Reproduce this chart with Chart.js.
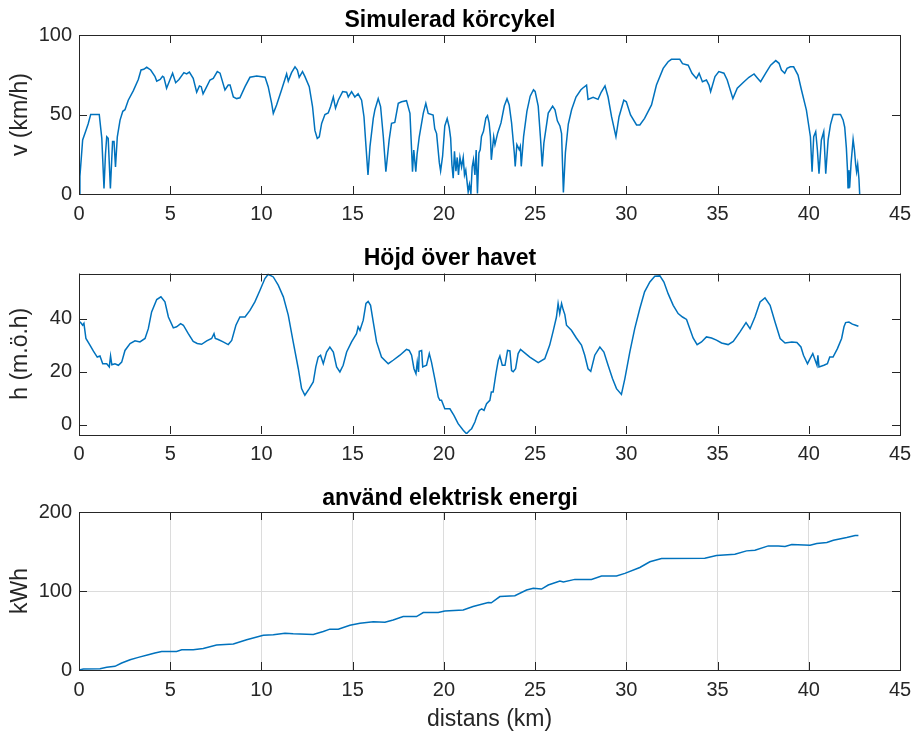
<!DOCTYPE html>
<html>
<head>
<meta charset="utf-8">
<script src="https://cdn.jsdelivr.net/npm/chart.js@4"></script>
<style>
  body { margin: 0; background: #fff; }
  canvas { position: absolute; left: 0; }
</style>
</head>
<body>
<canvas id="speedChart" width="914" height="232" style="top:0px"></canvas>
<canvas id="heightChart" width="914" height="234" style="top:238px"></canvas>
<canvas id="energyChart" width="914" height="257" style="top:476px"></canvas>
<script>
// distance ticks shared by all three subplots
const distTicks = [0, 5, 10, 15, 20, 25, 30, 35, 40, 45];

// Simulerad körcykel: speed vs distance
const speedKm = [0, 0.05, 0.2, 0.38, 0.5, 0.64, 1.11, 1.25, 1.37, 1.45, 1.52, 1.6, 1.72, 1.84, 1.92, 2.0, 2.1, 2.25, 2.4, 2.52,
  2.7, 2.98, 3.25, 3.4, 3.55, 3.71, 3.93, 4.16, 4.26, 4.45, 4.58, 4.65, 4.8, 4.98, 5.13, 5.3, 5.48, 5.75, 5.9, 6.05,
  6.26, 6.45, 6.6, 6.7, 6.8, 7.0, 7.18, 7.36, 7.58, 7.73, 8.0, 8.18, 8.28, 8.46, 8.64, 8.82, 9.1, 9.37, 9.74, 10.2,
  10.37, 10.56, 10.65, 10.83, 11.1, 11.38, 11.47, 11.65, 11.84, 11.97, 12.07, 12.25, 12.38, 12.62, 12.8, 12.93, 13.06, 13.17, 13.3, 13.48,
  13.66, 13.79, 13.94, 14.06, 14.21, 14.45, 14.67, 14.76, 14.94, 15.12, 15.3, 15.49, 15.62, 15.73, 15.84, 15.95, 16.13, 16.22, 16.4, 16.53,
  16.68, 16.82, 17.0, 17.13, 17.31, 17.5, 17.68, 17.95, 18.14, 18.23, 18.28, 18.35, 18.46, 18.53, 18.65, 18.87, 19.01, 19.14, 19.41, 19.5,
  19.6, 19.75, 19.82, 19.93, 20.05, 20.18, 20.29, 20.37, 20.44, 20.51, 20.58, 20.66, 20.73, 20.8, 20.88, 20.97, 21.06, 21.13, 21.2, 21.33,
  21.4, 21.48, 21.55, 21.62, 21.7, 21.77, 21.84, 21.92, 21.99, 22.06, 22.17, 22.3, 22.39, 22.48, 22.55, 22.6, 22.73, 22.8, 22.95, 23.13,
  23.31, 23.46, 23.58, 23.71, 23.86, 23.91, 24.0, 24.13, 24.19, 24.24, 24.37, 24.55, 24.73, 24.91, 25.0, 25.17, 25.3, 25.39, 25.48, 25.72,
  25.96, 26.09, 26.22, 26.36, 26.45, 26.55, 26.66, 26.82, 27.0, 27.24, 27.5, 27.6, 27.82, 27.9, 28.18, 28.45, 28.62, 28.83, 29.0, 29.19,
  29.43, 29.6, 29.86, 30.0, 30.23, 30.56, 30.74, 31.0, 31.38, 31.65, 32.02, 32.29, 32.47, 32.93, 33.08, 33.39, 33.6, 33.84, 33.99, 34.17,
  34.39, 34.53, 34.62, 34.86, 35.07, 35.35, 35.53, 35.84, 36.08, 36.45, 36.72, 37.0, 37.18, 37.36, 37.64, 37.91, 38.19, 38.37, 38.5, 38.68,
  38.81, 38.99, 39.17, 39.41, 39.6, 39.87, 40.09, 40.18, 40.27, 40.38, 40.47, 40.56, 40.69, 40.82, 40.93, 41.06, 41.19, 41.34, 41.74, 41.88,
  41.97, 42.06, 42.12, 42.15, 42.2, 42.24, 42.32, 42.43, 42.5, 42.57, 42.62, 42.68, 42.75, 42.79];
const speedKmh = [0, 11, 34, 40, 44, 50, 50, 35, 3.5, 25, 36, 35, 3.5, 33, 33, 17, 36, 46.5, 52, 53,
  59, 65, 72, 78, 78.4, 79.7, 78, 74, 71, 72, 74, 73.5, 66.5, 71.7, 76, 70, 72, 76.3, 75.5, 76.7,
  72.7, 64, 68, 67.5, 63, 67.5, 71.7, 72.7, 77, 76, 65.4, 68.5, 68.5, 61, 60, 60.5, 67.5, 73.4, 74.2, 73.4,
  67.5, 57, 50.7, 56, 65.4, 75.5, 71, 76.3, 80, 78, 73.4, 77, 74, 67.5, 55, 40, 35, 36, 44.4, 50,
  51, 55, 61, 54, 59, 64.4, 64, 61, 64.4, 61, 63, 59, 48.6, 30, 12, 30, 47.6, 53, 60, 55,
  36, 14, 34, 44.4, 45, 57, 58, 58.7, 50.7, 27.7, 14, 27.7, 14, 25, 36, 50.7, 57, 50.7, 49.7, 41,
  38, 19.7, 14.5, 23.9, 42.8, 47.4, 42, 35.2, 18.4, 10, 26.8, 14.3, 23, 12, 23, 17, 23, 12, 15, 1.3,
  6, 0.2, 17, 21.5, 12, 27.6, 0.3, 25.8, 27.8, 36.2, 39.4, 47.8, 49.3, 44.7, 36.2, 21.5, 36, 31, 38.4, 44.7,
  55.3, 59.9, 56, 44.7, 25.8, 17.4, 31, 27.9, 30, 17.4, 36.3, 52, 61.5, 65.6, 64.5, 55.3, 34.3, 17.4, 32, 50.9,
  55.3, 53, 46, 42.8, 38, 1, 26, 44, 53, 61, 65.4, 66.5, 68.5, 59.5, 60.8, 59.5, 64, 68, 61, 48.6,
  36, 48.6, 59, 58, 49.7, 43.4, 43.4, 47.6, 56, 68.5, 79, 83.2, 84.7, 84.7, 82, 81, 75.9, 72.7, 75.9, 70.6,
  71.7, 68.5, 64.4, 73.8, 77, 76, 71.7, 60, 66.5, 70.6, 73.4, 75.5, 73, 70.6, 76, 81, 83.9, 82.2, 78, 75.9,
  79, 80, 80, 74.8, 65.4, 52.8, 36, 14, 36, 39.2, 28, 12.8, 34, 39.2, 12.8, 34, 43.6, 50, 50, 46.6,
  42, 29, 15.4, 3.9, 15, 3.9, 19.6, 34.4, 28, 18.6, 14, 18.6, 9.4, 0];
const speedTicks = [0, 50, 100];

// Höjd över havet: elevation vs distance
const heightKm = [0, 0.09, 0.2, 0.27, 0.38, 0.6, 0.79, 1.0, 1.15, 1.3, 1.52, 1.66, 1.73, 1.8, 1.97, 2.16, 2.34, 2.52, 2.8, 3.07,
  3.34, 3.62, 3.8, 3.98, 4.26, 4.49, 4.71, 4.9, 5.17, 5.35, 5.57, 5.72, 5.99, 6.26, 6.48, 6.72, 7.0, 7.27, 7.4, 7.47,
  7.63, 7.9, 8.18, 8.37, 8.6, 8.82, 9.1, 9.37, 9.64, 9.92, 10.19, 10.37, 10.65, 10.92, 11.2, 11.47, 11.74, 12.02, 12.2, 12.38,
  12.62, 12.84, 12.98, 13.11, 13.24, 13.39, 13.57, 13.75, 13.94, 14.12, 14.3, 14.48, 14.67, 14.94, 15.21, 15.3, 15.4, 15.58, 15.73, 15.85,
  15.98, 16.13, 16.31, 16.58, 16.95, 17.22, 17.59, 17.95, 18.1, 18.23, 18.36, 18.47, 18.54, 18.61, 18.65, 18.78, 18.84, 19.05, 19.2, 19.32,
  19.5, 19.69, 19.78, 19.87, 20.05, 20.33, 20.55, 20.78, 21.06, 21.24, 21.42, 21.52, 21.7, 21.79, 21.94, 22.07, 22.2, 22.34, 22.52, 22.6,
  22.7, 22.85, 22.98, 23.07, 23.2, 23.35, 23.49, 23.62, 23.71, 23.8, 23.93, 24.07, 24.2, 24.71, 25.17, 25.53, 25.8, 25.98, 26.17, 26.26,
  26.35, 26.45, 26.54, 26.63, 26.72, 26.99, 27.26, 27.54, 27.72, 27.9, 28.05, 28.27, 28.55, 28.77, 29.0, 29.24, 29.46, 29.73, 29.92, 30.19,
  30.46, 30.74, 31.0, 31.29, 31.56, 31.84, 32.06, 32.29, 32.57, 32.84, 33.08, 33.3, 33.48, 33.66, 33.88, 34.12, 34.39, 34.67, 34.94, 35.22,
  35.58, 35.86, 36.23, 36.56, 36.78, 37.05, 37.33, 37.6, 37.88, 38.15, 38.43, 38.7, 39.07, 39.35, 39.57, 39.71, 39.93, 40.07, 40.22, 40.35,
  40.45, 40.5, 40.56, 40.83, 41.02, 41.15, 41.33, 41.57, 41.8, 41.93, 42.02, 42.2, 42.39, 42.57, 42.72];
const heightM = [39, 38.5, 37.5, 38.2, 32.5, 30, 27.7, 25.5, 25.9, 23, 23, 21.8, 25.9, 22.6, 23, 22.4, 23.6, 28, 30.6, 31.6,
  31.2, 32.5, 36.2, 42.5, 47.2, 48.2, 46.3, 40.6, 36.5, 36.9, 38.1, 37.5, 34.3, 31.4, 30.6, 30.3, 31.6, 32.5, 34.3, 32.5,
  32.1, 31.2, 30.2, 31.8, 37.5, 40.6, 40.6, 43.1, 46.3, 50.7, 55.1, 56.7, 55.7, 52.6, 48.2, 41.3, 31.2, 21.1, 13.6, 11.1,
  13.6, 16.1, 21.8, 25.5, 26.2, 23, 27.4, 29.3, 27.4, 21.8, 19.9, 22.4, 27.4, 31.2, 34.3, 36.9, 35.6, 39.4, 45.7, 46.5,
  45, 38.7, 31.2, 25.5, 23, 24.3, 26.2, 28.4, 28, 26.2, 21.1, 19.2, 23.6, 19.9, 27.7, 28, 21.8, 22.4, 26.8, 23.6,
  17.4, 10.4, 9.2, 9.2, 6, 6, 3.5, 0.4, -2.1, -3.4, -2.1, -1.5, 1, 2.9, 5.4, 6, 5.4, 7.9, 9.2, 12.3,
  12.3, 19.2, 24.3, 25.9, 22.4, 22.4, 28, 27.8, 20.4, 20, 21.1, 26.8, 28.4, 25.5, 23.4, 24.9, 30, 35, 40.6, 45.7,
  41.9, 45.7, 43.3, 41.5, 37.5, 35.6, 32.7, 30, 26.2, 21.1, 20.1, 26.2, 29.3, 27.4, 22.4, 17.4, 13.6, 11.4, 17.4, 27.4,
  36.2, 43.8, 50.1, 53.8, 56, 56.1, 53.8, 49.4, 45, 41.9, 40.6, 39.7, 36.2, 32.7, 30.2, 31.2, 33.1, 32.7, 31.9, 30.8,
  30.2, 31.4, 35, 38.5, 36.2, 40.6, 46.3, 47.8, 45, 38.7, 32.5, 30.8, 31.2, 31, 29.3, 26.2, 23, 24.9, 26.8, 24.3,
  22.4, 26.2, 21.8, 22.4, 23, 25.5, 25.5, 28.7, 32.5, 36.9, 38.5, 38.7, 37.9, 37.5, 37.1];
const heightTicks = [0, 20, 40];

// använd elektrisk energi: cumulative energy vs distance
const energyKm = [0, 0.24, 1.15, 1.52, 1.97, 2.34, 2.8, 3.25, 3.8, 4.16, 4.53, 5.35, 5.63, 6.26, 6.81, 7.54, 8.46, 9.19, 10.1, 10.65,
  11.29, 11.74, 12.84, 13.39, 13.75, 14.21, 14.85, 15.4, 16.13, 16.77, 17.22, 17.77, 18.5, 18.87, 19.69, 20.05, 21.06, 21.6, 22.43, 22.6,
  23.07, 23.89, 24.53, 24.9, 25.35, 25.72, 26.36, 26.55, 27.18, 28.09, 28.64, 29.46, 29.92, 30.74, 31.29, 31.93, 34.3, 34.94, 35.95, 36.59,
  37.05, 37.78, 38.33, 38.7, 39.07, 40.07, 40.44, 40.99, 41.35, 42.08, 42.54, 42.72];
const energyKWh = [0, 1.3, 1.7, 3.4, 4.6, 8.8, 13, 16, 19.3, 21.4, 23.5, 23.5, 25.6, 25.6, 27.3, 31.5, 32.8, 38.2, 44.1, 44.5,
  46.6, 45.8, 45, 48.7, 51.7, 51.7, 56.7, 59.2, 61, 60.5, 63.4, 67.6, 67.6, 72.7, 72.7, 74.8, 76, 80.3, 85.3, 85,
  92.9, 94.1, 101.3, 103.4, 102.5, 107.6, 112.6, 111.5, 114.7, 114.7, 118.9, 118.9, 122.3, 129.8, 137, 141.2, 141.6, 145, 146.6, 150.8,
  151.7, 157.1, 157.1, 156.3, 158.8, 158, 160, 161.3, 164.3, 167.6, 170.2, 170.2];
const energyTicks = [0, 100, 200];

const FONT = "'Liberation Sans', Arial, sans-serif";
const INK = '#262626';

// MATLAB-style box with inward ticks on all four sides
const matlabAxes = {
  id: 'matlabAxes',
  afterDraw(chart) {
    const { ctx, chartArea: a, scales: { x, y } } = chart;
    const len = 8;
    ctx.save();
    ctx.strokeStyle = INK;
    ctx.lineWidth = 1;
    ctx.beginPath();
    x.ticks.forEach(t => {
      const px = Math.round(x.getPixelForValue(t.value)) + 0.5;
      ctx.moveTo(px, a.bottom); ctx.lineTo(px, a.bottom - len);
      ctx.moveTo(px, a.top); ctx.lineTo(px, a.top + len);
    });
    y.ticks.forEach(t => {
      const py = Math.round(y.getPixelForValue(t.value)) + 0.5;
      ctx.moveTo(a.left, py); ctx.lineTo(a.left + len, py);
      ctx.moveTo(a.right, py); ctx.lineTo(a.right - len, py);
    });
    ctx.stroke();
    ctx.strokeRect(Math.round(a.left) + 0.5, Math.round(a.top) + 0.5, Math.round(a.width), Math.round(a.height));
    ctx.restore();
  }
};

function makePlot(id, cfg) {
  const points = cfg.xs.map((x, i) => ({ x: x, y: cfg.ys[i] }));
  return new Chart(document.getElementById(id), {
    type: 'line',
    data: {
      datasets: [{
        data: points,
        borderColor: '#0072BD',
        borderWidth: 1.5,
        pointRadius: 0,
        tension: 0,
        fill: false
      }]
    },
    options: {
      responsive: false,
      animation: false,
      events: [],
      layout: { padding: { left: 0, right: 14, top: 0, bottom: 0 } },
      plugins: {
        legend: { display: false },
        tooltip: { enabled: false },
        title: {
          display: true,
          text: cfg.title,
          color: '#000',
          font: { family: FONT, size: 23, weight: 'bold', lineHeight: 1 },
          padding: cfg.titlePad
        }
      },
      scales: {
        x: {
          type: 'linear',
          min: 0,
          max: 45,
          afterBuildTicks: s => { s.ticks = distTicks.map(v => ({ value: v })); },
          afterFit: s => {
            s.height = cfg.xAxisHeight;
            s.paddingLeft = 0;
            s.paddingRight = 0;
          },
          grid: { display: cfg.grid, drawTicks: false, color: '#dcdcdc', lineWidth: 1 },
          border: { display: false },
          ticks: { color: INK, font: { family: FONT, size: 20 }, padding: 8, maxRotation: 0, autoSkip: false },
          title: {
            display: !!cfg.xLabel,
            text: cfg.xLabel || '',
            color: INK,
            font: { family: FONT, size: 23, lineHeight: 1 },
            padding: { top: 0, bottom: 2 }
          }
        },
        y: {
          type: 'linear',
          min: cfg.yMin,
          max: cfg.yMax,
          afterBuildTicks: s => { s.ticks = cfg.yTicks.map(v => ({ value: v })); },
          afterFit: s => {
            s.width = 79;
            s.paddingTop = 0;
            s.paddingBottom = 0;
          },
          grid: { display: cfg.grid, drawTicks: false, color: '#dcdcdc', lineWidth: 1 },
          border: { display: false },
          ticks: { color: INK, font: { family: FONT, size: 20 }, padding: 7 },
          title: {
            display: true,
            text: cfg.yLabel,
            color: INK,
            font: { family: FONT, size: 23, lineHeight: 1 },
            padding: { top: 9, bottom: 0 }
          }
        }
      }
    },
    plugins: [matlabAxes]
  });
}

makePlot('speedChart', {
  title: 'Simulerad körcykel', titlePad: { top: 9, bottom: 3 },
  xs: speedKm, ys: speedKmh, yLabel: 'v (km/h)',
  yMin: 0, yMax: 100, yTicks: speedTicks, grid: false, xAxisHeight: 38
});

makePlot('heightChart', {
  title: 'Höjd över havet', titlePad: { top: 9.5, bottom: 3 },
  xs: heightKm, ys: heightM, yLabel: 'h (m.ö.h)',
  yMin: -3.5, yMax: 57, yTicks: heightTicks, grid: false, xAxisHeight: 38
});

makePlot('energyChart', {
  title: 'använd elektrisk energi', titlePad: { top: 11, bottom: 2 },
  xs: energyKm, ys: energyKWh, yLabel: 'kWh', xLabel: 'distans (km)',
  yMin: 0, yMax: 200, yTicks: energyTicks, grid: true, xAxisHeight: 63
});
</script>
</body>
</html>
